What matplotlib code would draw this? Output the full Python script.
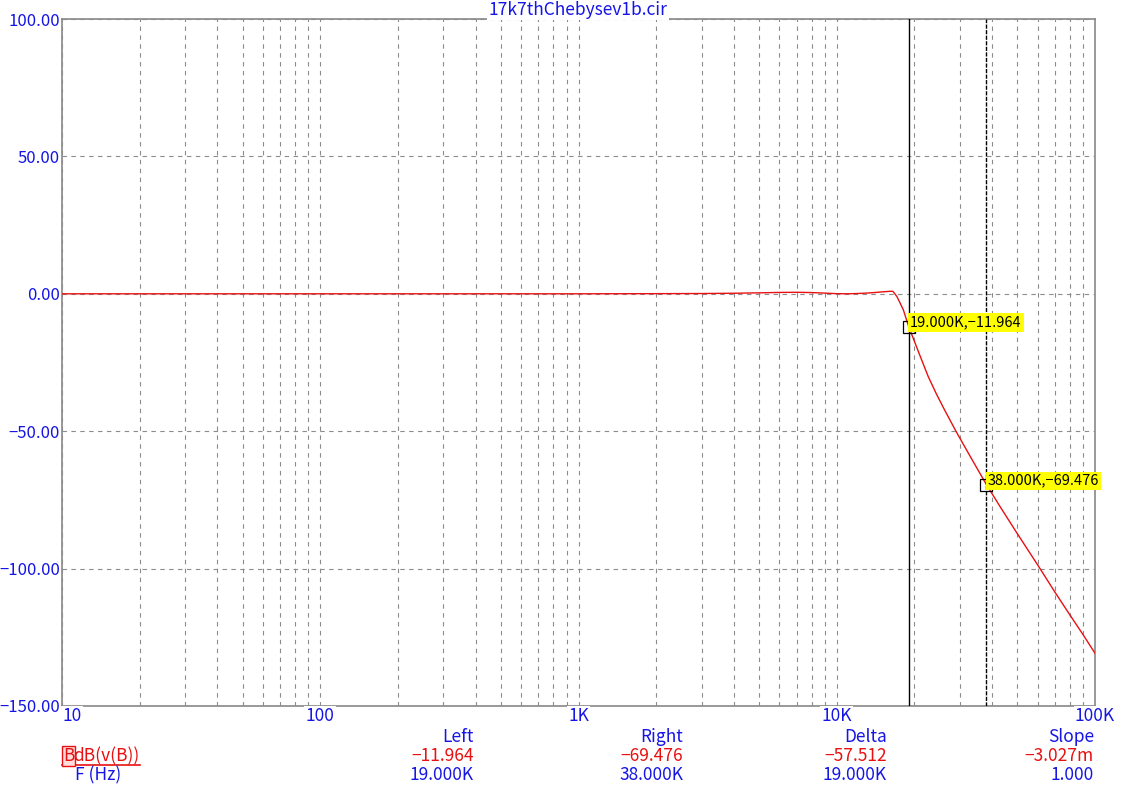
import matplotlib
matplotlib.use("Agg")
import matplotlib.pyplot as plt
from matplotlib.ticker import LogLocator, NullFormatter, FixedLocator, FixedFormatter
from matplotlib.lines import Line2D

plt.rcParams['font.family'] = ['Noto Sans CJK JP', 'DejaVu Sans']

# data
freq_hz = [10, 100, 1000, 2000, 3000, 4000, 5000, 6000, 7000, 8000, 9000,
           10000, 11000, 12000, 13000, 14000, 15000, 16000, 16500, 17100,
           17600, 18100, 19000, 20100, 21000, 22600, 24300, 26200, 29100,
           33300, 38000, 43000, 49800, 60300, 70000, 80000, 90000, 100000]
gain_db = [0, 0, 0, 0.05, 0.1, 0.2, 0.35, 0.5, 0.55, 0.45, 0.25,
           0.05, 0.0, 0.1, 0.25, 0.45, 0.7, 0.9, 0.9, -1.0,
           -3.4, -5.8, -11.964, -17.9, -22.5, -30.1, -36.4, -42.4, -50.4,
           -60.1, -69.476, -77.6, -87.0, -99.0, -108.6, -116.9, -124.1, -130.8]

x_ticks = [10, 100, 1000, 10000, 100000]
x_labels = ['10', '100', '1K', '10K', '100K']
y_ticks = [-150, -100, -50, 0, 50, 100]
y_labels = ['\u2212150.00', '\u2212100.00', '\u221250.00', '0.00', '50.00', '100.00']

cursor_f = [19000, 38000]
cursor_db = [-11.964, -69.476]
cursor_text = ['19.000K,\u221211.964', '38.000K,\u221269.476']

col_heads = ['Left', 'Right', 'Delta', 'Slope']
col_vals = ['\u221211.964', '\u221269.476', '\u221257.512', '\u22123.027m']
col_freq = ['19.000K', '38.000K', '19.000K', '1.000']
col_x = [474, 683, 887, 1094]

title = '17k7thChebysev1b.cir'

BLUE = '#1515e6'
RED = '#e81010'
W, H = 1127, 793

fig = plt.figure(figsize=(W / 100, H / 100), dpi=100)
ax = fig.add_axes([62 / W, 1 - 706 / H, (1095 - 62) / W, (706 - 19) / H])

ax.plot(freq_hz, gain_db, color=RED, lw=1.0, zorder=4)
ax.set_xscale('log')
ax.set_xlim(10, 100000)
ax.set_ylim(-150, 100)

ax.xaxis.set_major_locator(FixedLocator(x_ticks))
ax.xaxis.set_major_formatter(FixedFormatter(x_labels))
ax.xaxis.set_minor_locator(LogLocator(base=10, subs=range(2, 10)))
ax.xaxis.set_minor_formatter(NullFormatter())
ax.set_yticks(y_ticks)
ax.set_yticklabels(y_labels)

grid_style = dict(color='#8c8c8c', lw=0.8, linestyle=(0, (4, 4)))
ax.grid(True, which='both', axis='x', **grid_style)
ax.grid(True, which='major', axis='y', **grid_style)

ax.tick_params(which='both', length=0)
ax.tick_params(axis='x', pad=1, labelsize=12.5, labelcolor=BLUE)
ax.tick_params(axis='y', pad=1.5, labelsize=12, labelcolor=BLUE)
for lbl in ax.get_xticklabels():
    lbl.set_bbox(dict(facecolor='white', edgecolor='none', pad=1))
ax.get_xticklabels()[0].set_horizontalalignment('left')

for s in ax.spines.values():
    s.set_color('#888888')
    s.set_linewidth(1.2)
    s.set_zorder(1)

# cursors
ax.axvline(cursor_f[0], color='black', lw=1.0, zorder=3)
ax.axvline(cursor_f[1], color='black', lw=1.0, linestyle=(0, (3, 1)), zorder=3)
for f, d, t in zip(cursor_f, cursor_db, cursor_text):
    ax.plot([f], [d], marker='s', ms=9, mfc='none', mec='black', mew=0.9,
            zorder=5, clip_on=False)
    ax.annotate(t, (f, d), xytext=(1, 3), textcoords='offset points',
                ha='left', va='center', fontsize=10.5, color='black', zorder=6,
                bbox=dict(facecolor='#ffff00', edgecolor='none', pad=1.5))

# title over top border
fig.text(578 / W, 1 - 10 / H, title, ha='center', va='center', color=BLUE,
         fontsize=12.5, bbox=dict(facecolor='white', edgecolor='none', pad=1))

# readout rows
for x, hd, v, fq in zip(col_x, col_heads, col_vals, col_freq):
    fig.text(x / W, 1 - 737 / H, hd, ha='right', va='center', color=BLUE, fontsize=12.5)
    fig.text(x / W, 1 - 756 / H, v, ha='right', va='center', color=RED, fontsize=12.5)
    fig.text(x / W, 1 - 775 / H, fq, ha='right', va='center', color=BLUE, fontsize=12.5)

fig.text(63 / W, 1 - 756 / H, 'B', ha='left', va='center', color=RED, fontsize=12.5,
         bbox=dict(facecolor='#ffdddd', edgecolor=RED, pad=0.5, lw=1))
fig.text(73 / W, 1 - 756 / H, 'dB(v(B))', ha='left', va='center', color=RED, fontsize=12.5)
fig.add_artist(Line2D([62 / W, 140 / W], [1 - 765 / H, 1 - 765 / H], color=RED, lw=1.2))
fig.text(75 / W, 1 - 775 / H, 'F (Hz)', ha='left', va='center', color=BLUE, fontsize=12.5)

fig.savefig('out.png', dpi=100)
